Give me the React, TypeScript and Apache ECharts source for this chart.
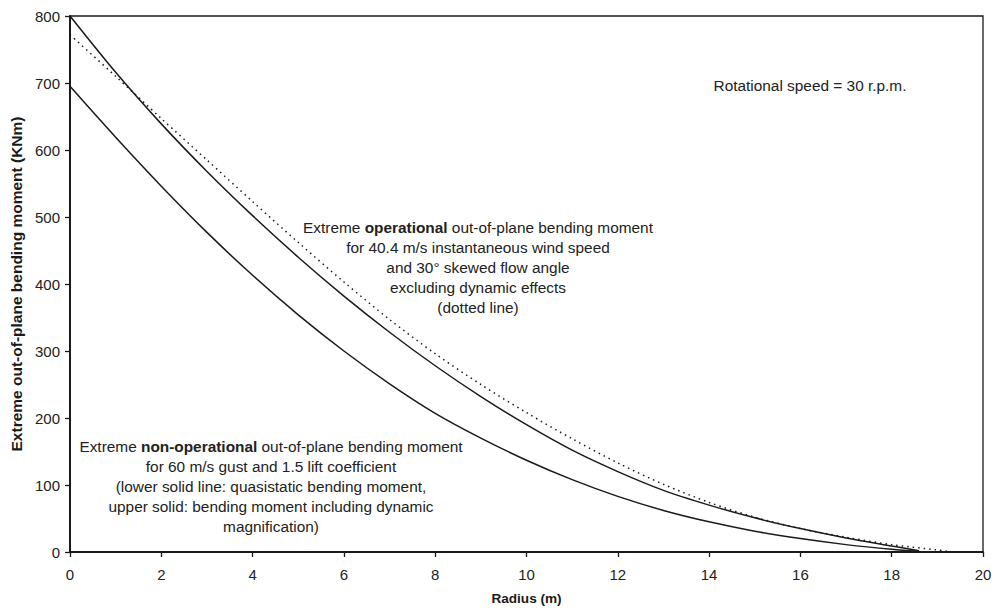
import React, { useEffect, useRef } from "react";
import * as echarts from "echarts";

// Radius (m)
const radiusSolid = [0, 1, 2, 3, 4, 5, 6, 7, 8, 9, 10, 11, 12, 13, 14, 15, 16, 17, 18, 18.6];
// Upper solid: bending moment including dynamic magnification (KNm)
const upperSolid = [800, 716, 639, 568, 502, 440, 382, 328, 278, 232, 190, 152, 120, 92, 70, 51, 35, 21, 9, 2];
// Lower solid: quasistatic bending moment (KNm)
const lowerSolid = [695, 619, 546, 477, 413, 354, 300, 251, 207, 170, 137, 108, 83, 62, 45, 31, 20, 11, 4, 1];
// Dotted: extreme operational, excluding dynamic effects (KNm)
const radiusDotted = [0, 1, 2, 3, 4, 5, 6, 7, 8, 9, 10, 11, 12, 13, 14, 15, 16, 17, 18, 19, 19.35];
const dotted = [772, 710, 647, 585, 523, 462, 403, 347, 296, 250, 208, 169, 133, 101, 74, 52, 35, 22, 11, 3, 0];

const xTicks = { min: 0, max: 20, interval: 2 };
const yTicks = { min: 0, max: 800, interval: 100 };

const FONT = "Liberation Sans, Arial, sans-serif";
const INK = "#1a1a1a";

function pairs(xs: number[], ys: number[]) {
  return xs.map((x, i) => [x, ys[i]]);
}

export default function App() {
  const ref = useRef<HTMLDivElement>(null);
  useEffect(() => {
    if (!ref.current) return;
    const chart = echarts.init(ref.current, undefined, { renderer: "svg" });
    const lineStyleBase = { color: INK, width: 1.5 };
    const rich = {
      n: { fontFamily: FONT, fontSize: 15.4, lineHeight: 20, fill: "#222" },
      b: { fontFamily: FONT, fontSize: 15.4, lineHeight: 20, fontWeight: "bold", fill: "#222" },
    };
    chart.setOption({
      animation: false,
      backgroundColor: "#ffffff",
      grid: {
        left: 66,
        right: 16,
        top: 16,
        bottom: 61,
        show: true,
        borderColor: INK,
        borderWidth: 1.3,
        containLabel: false,
      },
      xAxis: {
        type: "value",
        min: xTicks.min,
        max: xTicks.max,
        interval: xTicks.interval,
        name: "Radius (m)",
        nameLocation: "middle",
        nameGap: 39,
        nameTextStyle: { fontFamily: FONT, fontSize: 13.6, fontWeight: "bold", color: INK },
        axisLine: { show: true, onZero: false, lineStyle: { color: INK, width: 2 } },
        axisTick: { show: true, length: 5, lineStyle: { color: INK, width: 1.3 } },
        axisLabel: { fontFamily: FONT, fontSize: 15, color: "#222", margin: 15 },
        splitLine: { show: false },
      },
      yAxis: {
        type: "value",
        min: yTicks.min,
        max: yTicks.max,
        interval: yTicks.interval,
        name: "Extreme out-of-plane bending moment (KNm)",
        nameLocation: "middle",
        nameGap: 46,
        nameTextStyle: { fontFamily: FONT, fontSize: 15.5, fontWeight: "bold", color: INK },
        axisLine: { show: true, onZero: false, lineStyle: { color: INK, width: 2 } },
        axisTick: { show: true, length: 5, lineStyle: { color: INK, width: 1.3 } },
        axisLabel: { fontFamily: FONT, fontSize: 15, color: "#222", margin: 10 },
        splitLine: { show: false },
      },
      series: [
        {
          type: "line",
          name: "Upper solid",
          data: pairs(radiusSolid, upperSolid),
          smooth: 0.3,
          showSymbol: false,
          lineStyle: lineStyleBase,
        },
        {
          type: "line",
          name: "Lower solid",
          data: pairs(radiusSolid, lowerSolid),
          smooth: 0.3,
          showSymbol: false,
          lineStyle: lineStyleBase,
        },
        {
          type: "line",
          name: "Dotted",
          data: pairs(radiusDotted, dotted),
          smooth: 0.3,
          showSymbol: false,
          lineStyle: { color: INK, width: 1.5, type: [1.5, 4] },
        },
      ],
      graphic: [
        {
          type: "text",
          x: 810,
          y: 85,
          style: {
            text: "Rotational speed = 30 r.p.m.",
            font: `15.4px ${FONT}`,
            fill: "#222",
            textAlign: "center",
            textVerticalAlign: "middle",
          },
        },
        {
          type: "text",
          x: 478,
          y: 217,
          style: {
            text:
              "{n|Extreme }{b|operational}{n| out-of-plane bending moment}\n" +
              "{n|for 40.4 m/s instantaneous wind speed}\n" +
              "{n|and 30° skewed flow angle}\n" +
              "{n|excluding dynamic effects}\n" +
              "{n|(dotted line)}",
            textAlign: "center",
            fill: "#222",
            rich,
          },
        },
        {
          type: "text",
          x: 271,
          y: 436,
          style: {
            text:
              "{n|Extreme }{b|non-operational}{n| out-of-plane bending moment}\n" +
              "{n|for 60 m/s gust and 1.5 lift coefficient}\n" +
              "{n|(lower solid line: quasistatic bending moment,}\n" +
              "{n|upper solid: bending moment including dynamic}\n" +
              "{n|magnification)}",
            textAlign: "center",
            fill: "#222",
            rich,
          },
        },
      ],
    });
    return () => chart.dispose();
  }, []);
  return <div ref={ref} style={{ width: 999, height: 613, position: "absolute", left: 0, top: 0 }} />;
}
